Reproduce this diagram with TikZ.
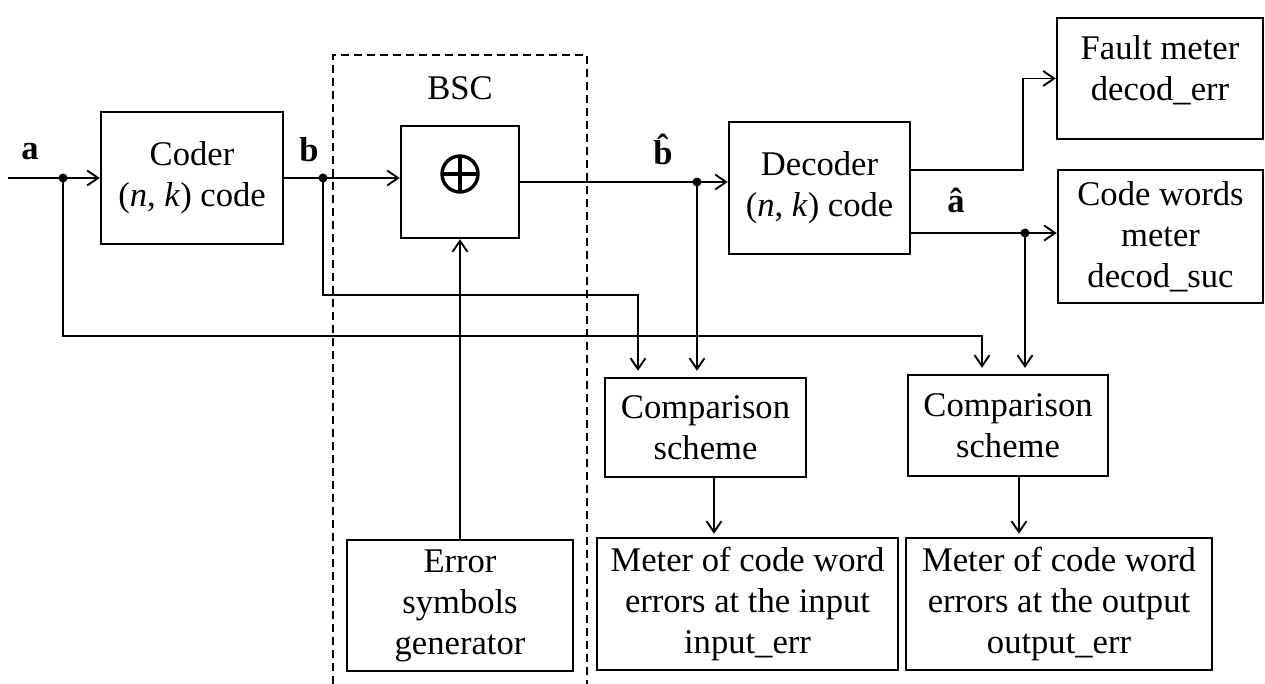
\documentclass[tikz,border=0pt]{standalone}
\usepackage{fontspec}
\setmainfont{Liberation Serif}
\usetikzlibrary{arrows.meta}
\begin{document}
\begin{tikzpicture}[x=1pt,y=-1pt,
  font=\fontsize{34.6pt}{41pt}\selectfont,
  box/.style={draw, line width=2.4pt, inner sep=0pt, align=center},
  wire/.style={line width=1.9pt},
  arr/.style={wire, -{Straight Barb[length=11pt,width=15pt,line width=1.9pt]}},
  junction/.style={circle, fill, inner sep=0pt, minimum size=9pt},
  lbl/.style={font=\fontsize{34.6pt}{41pt}\selectfont\bfseries, anchor=base, inner sep=0pt},
  bsc/.style={line width=1.8pt, dash pattern=on 8pt off 5pt}
]
\useasboundingbox (0,0) rectangle (1265,684);

% channel frame (open at the bottom)
\draw[bsc] (333,684) -- (333,55) -- (587,55) -- (587,684);
\node (bsclabel) at (460,88) {BSC};

% blocks
\node[box, minimum width=182pt, minimum height=132pt] (coder) at (192,178) {Coder\\(\textit{n}, \textit{k}) code};
\node[box, minimum width=118pt, minimum height=112pt] (xor) at (460,182) {};
\node[box, minimum width=181pt, minimum height=132pt] (dec) at (819.5,188) {Decoder\\(\textit{n}, \textit{k}) code};
\node[box, minimum width=206pt, minimum height=121pt,
      label={[align=center, yshift=8pt]center:Fault meter\\decod\_err}] (fault) at (1160,78.5) {};
\node[box, minimum width=205pt, minimum height=133pt] (cw) at (1160.5,236.5) {Code words\\meter\\decod\_suc};
\node[box, minimum width=201pt, minimum height=99pt] (cmp1) at (705.5,427.5) {Comparison\\scheme};
\node[box, minimum width=200pt, minimum height=101pt] (cmp2) at (1008,425.5) {Comparison\\scheme};
\node[box, minimum width=301pt, minimum height=132pt] (mtr1) at (747.5,604) {Meter of code word\\errors at the input\\input\_err};
\node[box, minimum width=306pt, minimum height=132pt] (mtr2) at (1059,604) {Meter of code word\\errors at the output\\output\_err};
\node[box, minimum width=226pt, minimum height=131pt] (gen) at (460,605.5) {Error\\symbols\\generator};

% modulo-2 adder symbol
\draw[line width=3.4pt] ([yshift=8pt]xor.center) circle (18pt);
\draw[line width=3.4pt] ([yshift=8pt,xshift=-18pt]xor.center) -- ([yshift=8pt,xshift=18pt]xor.center);
\draw[line width=3.4pt] ([yshift=-10pt]xor.center) -- ([yshift=26pt]xor.center);

% junctions
\coordinate (in) at (8,178);
\coordinate (yup) at (0,170);
\node[junction] (ja) at (63,178) {};
\node[junction] (jb) at (323,178) {};
\node[junction] (jbh) at (697,182) {};
\node[junction] (jah) at (1025,233) {};

% signal labels
\node[lbl] (la) at (30,160) {a};
\node[lbl] (lb) at (309,162) {b};
\node[lbl] (lbh) at (663,165) {\^b};
\node[lbl] (lah) at (956,213) {\^a};

% connectors
\draw[arr] (in) -- (coder.west |- in);
\draw[arr, shorten >=6pt] (ja.center) -- (63,336) -| ([xshift=-26pt]cmp2.north);
\draw[arr] (coder.east) -- (jb.center) -- (xor.west |- jb);
\draw[arr, shorten >=6pt] (jb.center) -- (323,295) -| ([xshift=-67.5pt]cmp1.north);
\draw[arr] (xor.east) -- (xor.east -| dec.west);
\draw[arr, shorten >=6pt] (jbh.center) -- (jbh |- cmp1.north);
\draw[arr] (gen.north) -- (xor.south);
\draw[arr] (dec.east |- yup) -- ++(112,0) |- (fault.west);
\draw[arr] (dec.east |- jah) -- (jah.center) -- (jah -| cw.west);
\draw[arr, shorten >=6pt] (jah.center) -- (jah |- cmp2.north);
\draw[arr, shorten >=3pt] ([xshift=8.5pt]cmp1.south) -- ([xshift=8.5pt]cmp1.south |- mtr1.north);
\draw[arr, shorten >=3pt] ([xshift=11pt]cmp2.south) -- ([xshift=11pt]cmp2.south |- mtr2.north);
\end{tikzpicture}
\end{document}
